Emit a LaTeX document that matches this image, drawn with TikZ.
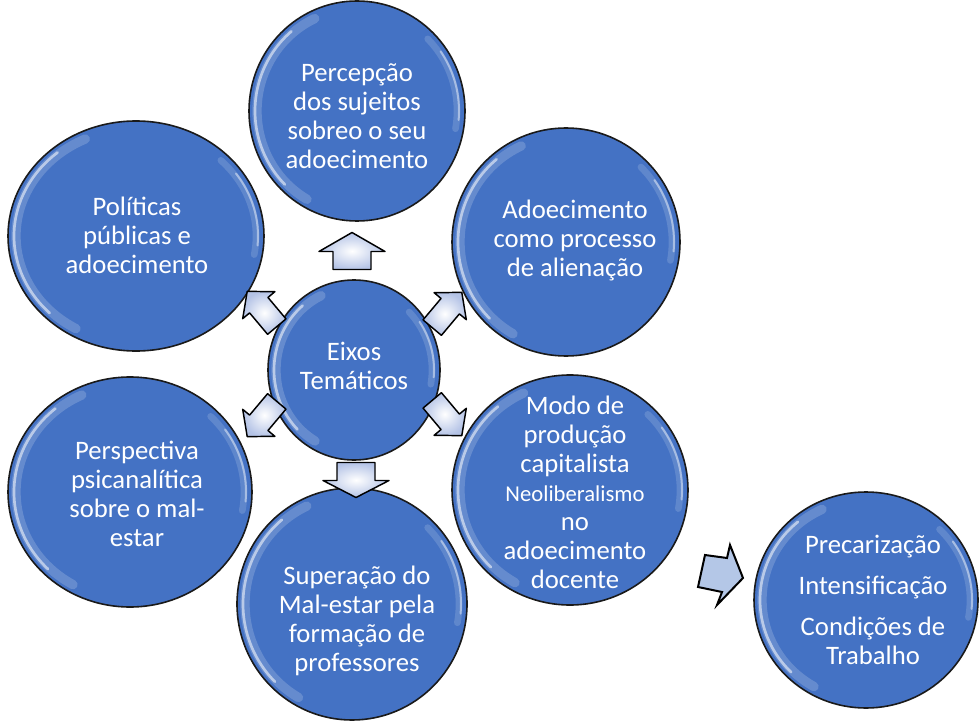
\documentclass[tikz,border=0pt]{standalone}
\usepackage{fontspec}
\setmainfont{Carlito}
\usetikzlibrary{shapes.geometric}
\definecolor{discblue}{HTML}{4472C4}
\definecolor{arrowpale}{HTML}{B4C3E6}
\definecolor{arrowflat}{HTML}{B4C7E7}
\definecolor{rim}{HTML}{1A1A1A}

% disc with a glossy rim: name, x, y, x radius, y radius
\newcommand\bubble[5]{%
  \node[disc, minimum width={1.5pt*#4}, minimum height={1.5pt*#5}] (#1) at (#2,#3) {};
  \draw[line width=7pt, white, opacity=0.18, line cap=round]
    (#2,#3) ++(120:{#4-8} and {#5-8}) arc[start angle=120, end angle=245, x radius={#4-8}, y radius={#5-8}];
  \draw[line width=2pt, white, opacity=0.55, line cap=round]
    (#2,#3) ++(135:{#4-6} and {#5-6}) arc[start angle=135, end angle=230, x radius={#4-6}, y radius={#5-6}];
  \draw[line width=5pt, white, opacity=0.15, line cap=round]
    (#2,#3) ++(-45:{#4-8} and {#5-8}) arc[start angle=-45, end angle=10, x radius={#4-8}, y radius={#5-8}];
  \draw[line width=1.5pt, white, opacity=0.45, line cap=round]
    (#2,#3) ++(-35:{#4-6} and {#5-6}) arc[start angle=-35, end angle=5, x radius={#4-6}, y radius={#5-6}];
}

% block arrow: name, x, y, angle, length, head length, shaft half-width, head half-width
\newcommand\blockarrow[8]{%
  \coordinate (#1) at (#2,#3);
  \draw[smallarrow, shift={(#2,#3)}, rotate=#4]
    ({-#5/2},{-#7}) -- ({#5/2-#6},{-#7}) -- ({#5/2-#6},{-#8}) -- ({#5/2},0)
    -- ({#5/2-#6},{#8}) -- ({#5/2-#6},{#7}) -- ({-#5/2},{#7}) -- cycle;
}

\begin{document}
\begin{tikzpicture}[x=0.75pt, y=-0.75pt,
  disc/.style={ellipse, draw=rim, line width=1.2pt, fill=discblue, inner sep=0pt},
  label/.style={text=white, align=center, font=\fontsize{20}{21.75}\selectfont},
  smallarrow/.style={draw=black, line width=1.1pt, line join=round,
    inner color=white, outer color=arrowpale},
  bigarrow/.style={draw=black, line width=1.5pt, line join=miter, fill=arrowflat}]

\useasboundingbox (0,0) rectangle (980,727);

% outer discs
\bubble{perc}{357}{111}{108}{110}
\bubble{alien}{566}{242}{114}{114}
\bubble{polit}{136}{236}{128}{115}
\bubble{modo}{570}{490}{118}{115}
\bubble{psic}{130}{492}{122}{115}
\bubble{super}{352}{604}{115}{116}
\bubble{prec}{866}{600}{112}{108}
% central disc
\bubble{eixos}{354}{370}{86}{90}

% texts
\node[label] (tperc) at (357,116) {Percepção\\dos sujeitos\\sobreo o seu\\adoecimento};
\node[label] (talien) at (575,240) {Adoecimento\\como processo\\de alienação};
\node[label] (tpolit) at (137,235) {Políticas\\públicas e\\adoecimento};
\node[label] (teixos) at (354,366) {Eixos\\Temáticos};
\node[label] (tmodo) at (575,492) {Modo de\\produção\\capitalista\\{\fontsize{17}{21.75}\selectfont Neoliberalismo}\\no\\adoecimento\\docente};
\node[label] (tpsic) at (137,494) {Perspectiva\\psicanalítica\\sobre o mal-\\estar};
\node[label] (tsuper) at (357,621) {Superação do\\Mal-estar pela\\formação de\\professores};
\node[label] (tprec) at (873,600) {Precarização\\[9pt]Intensificação\\[9pt]Condições de\\Trabalho};

% arrows leaving the central disc
\blockarrow{aup}{352}{251}{90}{37}{19}{19}{33}
\blockarrow{adown}{356}{480}{-90}{35}{17}{19}{33}
\blockarrow{aul}{262}{309}{130}{46}{18}{12}{21}
\blockarrow{aur}{447}{310}{50}{46}{18}{12}{21}
\blockarrow{all}{262}{419}{230}{46}{18}{12}{21}
\blockarrow{alr}{447}{418}{-50}{46}{18}{12}{21}

% arrow towards the working-conditions disc
\coordinate (aright) at (720,575);
\draw[bigarrow] (705,555) -- (727,558) -- (730,545) -- (743,578) -- (717,605)
  -- (722,592) -- (698,587) -- cycle;

\end{tikzpicture}
\end{document}
